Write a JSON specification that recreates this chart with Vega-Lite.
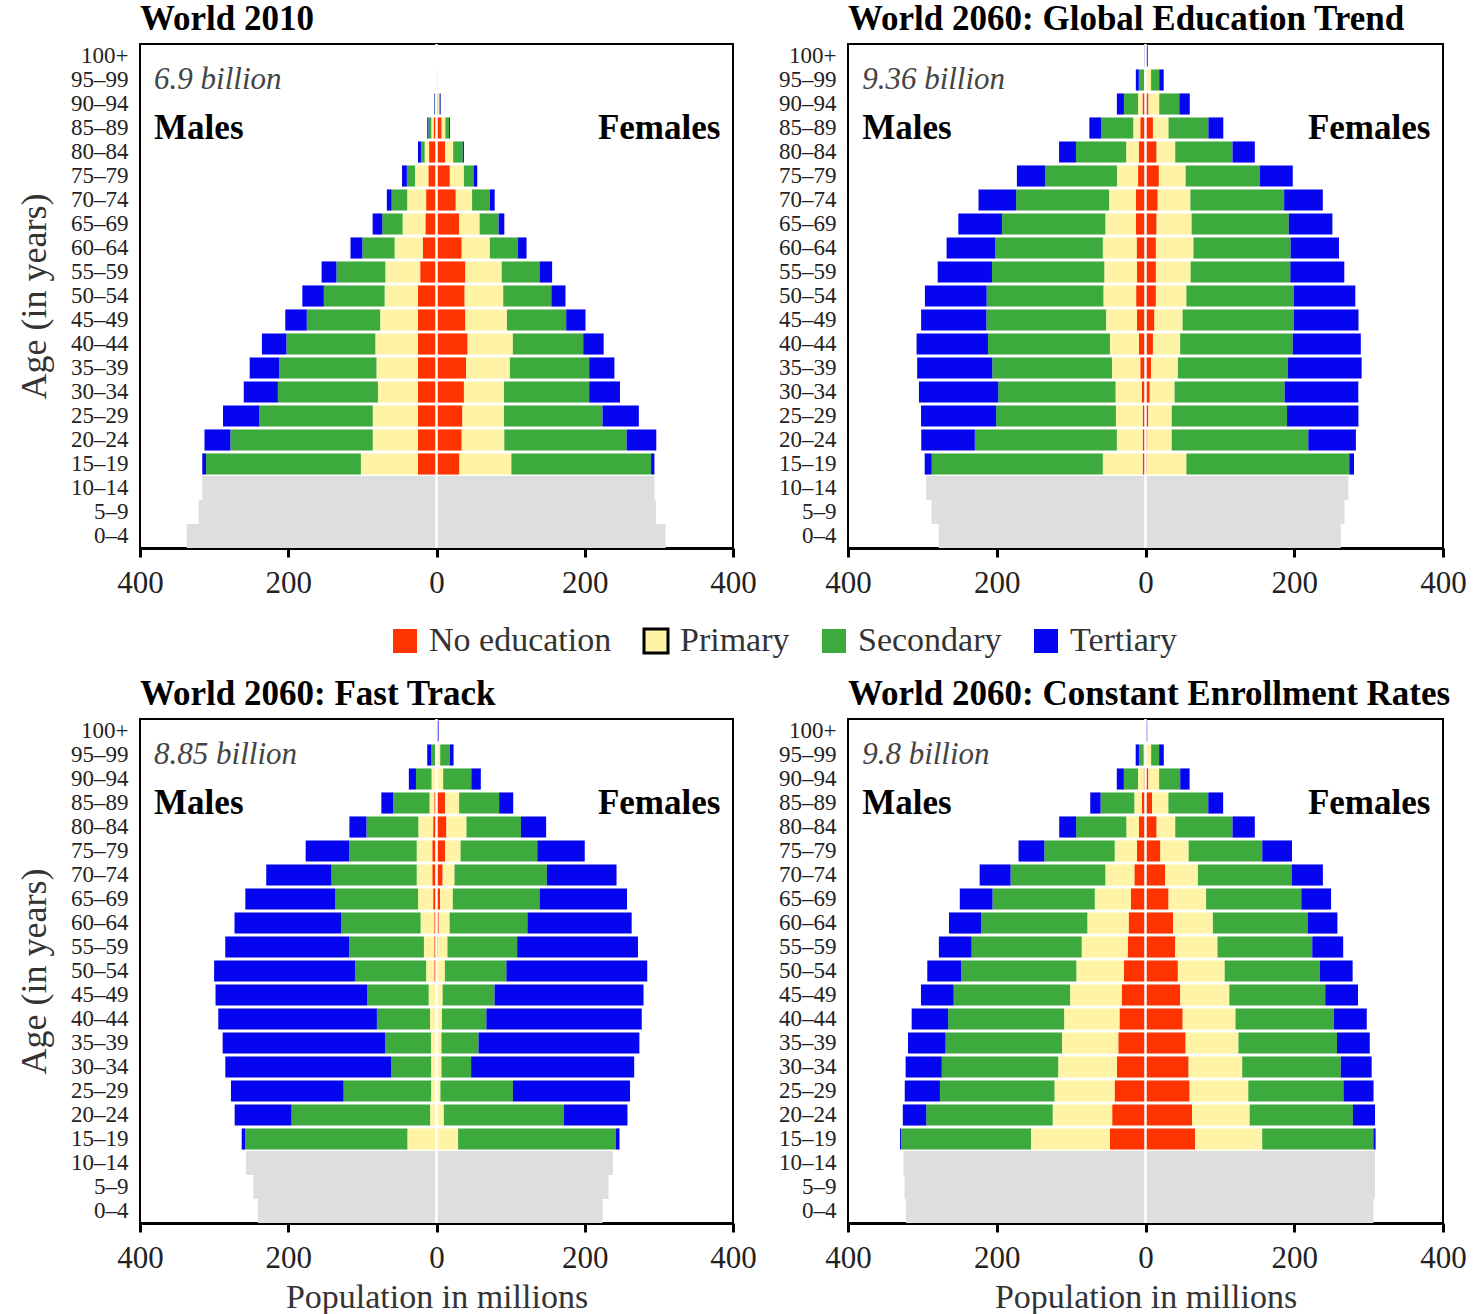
{
"$schema": "https://vega.github.io/schema/vega-lite/v6.json",
"background": "white",
"padding": {"left": 15, "top": 0, "right": 0, "bottom": 0},
"bounds": "flush",
"columns": 2,
"spacing": {"row": 171, "column": 115},
"resolve": {"scale": {"color": "shared"}, "legend": {"color": "shared"}},
"datasets": {
"notes": [
{"panel": "2010", "total": "6.9 billion"},
{"panel": "GET", "total": "9.36 billion"},
{"panel": "FT", "total": "8.85 billion"},
{"panel": "CER", "total": "9.8 billion"}
],
"kids": [
{"panel": "2010", "age": "10–14", "pop": -316}, {"panel": "2010", "age": "10–14", "pop": 294},
{"panel": "2010", "age": "5–9", "pop": -321}, {"panel": "2010", "age": "5–9", "pop": 296},
{"panel": "2010", "age": "0–4", "pop": -337}, {"panel": "2010", "age": "0–4", "pop": 309},
{"panel": "GET", "age": "10–14", "pop": -295}, {"panel": "GET", "age": "10–14", "pop": 272.6},
{"panel": "GET", "age": "5–9", "pop": -287.7}, {"panel": "GET", "age": "5–9", "pop": 267.5},
{"panel": "GET", "age": "0–4", "pop": -278}, {"panel": "GET", "age": "0–4", "pop": 262.5},
{"panel": "FT", "age": "10–14", "pop": -257}, {"panel": "FT", "age": "10–14", "pop": 238},
{"panel": "FT", "age": "5–9", "pop": -247}, {"panel": "FT", "age": "5–9", "pop": 232},
{"panel": "FT", "age": "0–4", "pop": -241}, {"panel": "FT", "age": "0–4", "pop": 224},
{"panel": "CER", "age": "10–14", "pop": -325.5}, {"panel": "CER", "age": "10–14", "pop": 308.5},
{"panel": "CER", "age": "5–9", "pop": -324}, {"panel": "CER", "age": "5–9", "pop": 308.5},
{"panel": "CER", "age": "0–4", "pop": -322}, {"panel": "CER", "age": "0–4", "pop": 306.6}
],
"edu": [
{"panel":"2010","age":"100+","No education":-0.1,"Primary":-0.1,"Secondary":-0.1,"Tertiary":-0.1},
{"panel":"2010","age":"100+","No education":0.2,"Primary":0.2,"Secondary":0.2,"Tertiary":0.1},
{"panel":"2010","age":"95–99","No education":-0.3,"Primary":-0.2,"Secondary":-0.2,"Tertiary":-0.1},
{"panel":"2010","age":"95–99","No education":0.6,"Primary":0.4,"Secondary":0.3,"Tertiary":0.2},
{"panel":"2010","age":"90–94","No education":-1,"Primary":-0.8,"Secondary":-0.8,"Tertiary":-0.6},
{"panel":"2010","age":"90–94","No education":2.2,"Primary":1.5,"Secondary":1.5,"Tertiary":0.8},
{"panel":"2010","age":"85–89","No education":-4,"Primary":-3,"Secondary":-4,"Tertiary":-1.5},
{"panel":"2010","age":"85–89","No education":7,"Primary":5,"Secondary":5,"Tertiary":1.2},
{"panel":"2010","age":"80–84","No education":-10,"Primary":-6,"Secondary":-5,"Tertiary":-4},
{"panel":"2010","age":"80–84","No education":11.5,"Primary":11,"Secondary":13,"Tertiary":1.5},
{"panel":"2010","age":"75–79","No education":-11,"Primary":-18,"Secondary":-11,"Tertiary":-6.5},
{"panel":"2010","age":"75–79","No education":18,"Primary":19,"Secondary":13,"Tertiary":5},
{"panel":"2010","age":"70–74","No education":-14,"Primary":-25.5,"Secondary":-21,"Tertiary":-6.5},
{"panel":"2010","age":"70–74","No education":26,"Primary":22,"Secondary":24,"Tertiary":6.5},
{"panel":"2010","age":"65–69","No education":-15,"Primary":-30.7,"Secondary":-27.5,"Tertiary":-13},
{"panel":"2010","age":"65–69","No education":30.7,"Primary":27.5,"Secondary":25.6,"Tertiary":7.7},
{"panel":"2010","age":"60–64","No education":-18.5,"Primary":-38,"Secondary":-43.5,"Tertiary":-16},
{"panel":"2010","age":"60–64","No education":34,"Primary":38,"Secondary":38,"Tertiary":11.5},
{"panel":"2010","age":"55–59","No education":-22,"Primary":-47,"Secondary":-66,"Tertiary":-20},
{"panel":"2010","age":"55–59","No education":39,"Primary":49,"Secondary":51,"Tertiary":17},
{"panel":"2010","age":"50–54","No education":-25,"Primary":-45,"Secondary":-82,"Tertiary":-29},
{"panel":"2010","age":"50–54","No education":38,"Primary":52,"Secondary":65,"Tertiary":19},
{"panel":"2010","age":"45–49","No education":-25,"Primary":-51,"Secondary":-99,"Tertiary":-29},
{"panel":"2010","age":"45–49","No education":39,"Primary":56,"Secondary":80,"Tertiary":26},
{"panel":"2010","age":"40–44","No education":-25,"Primary":-57.5,"Secondary":-120,"Tertiary":-33},
{"panel":"2010","age":"40–44","No education":42,"Primary":61,"Secondary":95,"Tertiary":27.5},
{"panel":"2010","age":"35–39","No education":-25,"Primary":-56,"Secondary":-131,"Tertiary":-40},
{"panel":"2010","age":"35–39","No education":40,"Primary":59,"Secondary":107,"Tertiary":34},
{"panel":"2010","age":"30–34","No education":-25,"Primary":-54,"Secondary":-135,"Tertiary":-46},
{"panel":"2010","age":"30–34","No education":37,"Primary":54,"Secondary":115,"Tertiary":41.5},
{"panel":"2010","age":"25–29","No education":-25,"Primary":-61,"Secondary":-153,"Tertiary":-49},
{"panel":"2010","age":"25–29","No education":35,"Primary":56,"Secondary":133,"Tertiary":49},
{"panel":"2010","age":"20–24","No education":-25,"Primary":-61,"Secondary":-192,"Tertiary":-35},
{"panel":"2010","age":"20–24","No education":34,"Primary":57.5,"Secondary":165,"Tertiary":40},
{"panel":"2010","age":"15–19","No education":-25,"Primary":-77,"Secondary":-209,"Tertiary":-5},
{"panel":"2010","age":"15–19","No education":31,"Primary":70,"Secondary":188.5,"Tertiary":4.5},

{"panel":"GET","age":"100+","No education":0,"Primary":-0.3,"Secondary":-0.5,"Tertiary":-1},
{"panel":"GET","age":"100+","No education":0,"Primary":0.5,"Secondary":1,"Tertiary":1.5},
{"panel":"GET","age":"95–99","No education":-0.5,"Primary":-1.5,"Secondary":-7,"Tertiary":-4},
{"panel":"GET","age":"95–99","No education":0.5,"Primary":7,"Secondary":11,"Tertiary":6},
{"panel":"GET","age":"90–94","No education":-4,"Primary":-6,"Secondary":-19,"Tertiary":-9.5},
{"panel":"GET","age":"90–94","No education":4,"Primary":14.5,"Secondary":27,"Tertiary":14},
{"panel":"GET","age":"85–89","No education":-7,"Primary":-9.5,"Secondary":-43,"Tertiary":-16},
{"panel":"GET","age":"85–89","No education":10,"Primary":21,"Secondary":53.6,"Tertiary":20},
{"panel":"GET","age":"80–84","No education":-9,"Primary":-17,"Secondary":-67.5,"Tertiary":-22.7},
{"panel":"GET","age":"80–84","No education":15,"Primary":25,"Secondary":77,"Tertiary":30},
{"panel":"GET","age":"75–79","No education":-10,"Primary":-28.4,"Secondary":-96.5,"Tertiary":-38},
{"panel":"GET","age":"75–79","No education":18,"Primary":36,"Secondary":100,"Tertiary":44},
{"panel":"GET","age":"70–74","No education":-13,"Primary":-36,"Secondary":-125,"Tertiary":-50.5},
{"panel":"GET","age":"70–74","No education":16.4,"Primary":44,"Secondary":126,"Tertiary":52},
{"panel":"GET","age":"65–69","No education":-13,"Primary":-41,"Secondary":-139,"Tertiary":-58.7},
{"panel":"GET","age":"65–69","No education":15,"Primary":47,"Secondary":130.6,"Tertiary":58.7},
{"panel":"GET","age":"60–64","No education":-12,"Primary":-45.4,"Secondary":-145,"Tertiary":-65},
{"panel":"GET","age":"60–64","No education":14,"Primary":50.5,"Secondary":130.6,"Tertiary":65},
{"panel":"GET","age":"55–59","No education":-11.4,"Primary":-44,"Secondary":-151,"Tertiary":-73},
{"panel":"GET","age":"55–59","No education":14,"Primary":46.7,"Secondary":134,"Tertiary":72.6},
{"panel":"GET","age":"50–54","No education":-12.6,"Primary":-44,"Secondary":-157,"Tertiary":-83},
{"panel":"GET","age":"50–54","No education":14,"Primary":41,"Secondary":144.5,"Tertiary":82.6},
{"panel":"GET","age":"45–49","No education":-11.4,"Primary":-41.6,"Secondary":-161,"Tertiary":-87.7},
{"panel":"GET","age":"45–49","No education":12,"Primary":37.9,"Secondary":149.5,"Tertiary":87},
{"panel":"GET","age":"40–44","No education":-8.8,"Primary":-39,"Secondary":-164,"Tertiary":-96},
{"panel":"GET","age":"40–44","No education":10,"Primary":36.6,"Secondary":151.4,"Tertiary":91.5},
{"panel":"GET","age":"35–39","No education":-7,"Primary":-38,"Secondary":-161,"Tertiary":-101},
{"panel":"GET","age":"35–39","No education":7.6,"Primary":36,"Secondary":148,"Tertiary":99},
{"panel":"GET","age":"30–34","No education":-5,"Primary":-35.3,"Secondary":-157.7,"Tertiary":-106.6},
{"panel":"GET","age":"30–34","No education":5.7,"Primary":33.4,"Secondary":148,"Tertiary":99},
{"panel":"GET","age":"25–29","No education":-3.8,"Primary":-36,"Secondary":-161,"Tertiary":-101},
{"panel":"GET","age":"25–29","No education":3.8,"Primary":31.5,"Secondary":155,"Tertiary":96},
{"panel":"GET","age":"20–24","No education":-3.8,"Primary":-34.7,"Secondary":-191,"Tertiary":-72},
{"panel":"GET","age":"20–24","No education":2.5,"Primary":32.8,"Secondary":183.6,"Tertiary":64},
{"panel":"GET","age":"15–19","No education":-3.8,"Primary":-53.6,"Secondary":-230,"Tertiary":-9.5},
{"panel":"GET","age":"15–19","No education":2,"Primary":53,"Secondary":219,"Tertiary":6.3},

{"panel":"FT","age":"100+","No education":0,"Primary":0,"Secondary":-0.2,"Tertiary":-0.5},
{"panel":"FT","age":"100+","No education":0,"Primary":0.3,"Secondary":0.5,"Tertiary":2},
{"panel":"FT","age":"95–99","No education":0,"Primary":-2,"Secondary":-5,"Tertiary":-5.5},
{"panel":"FT","age":"95–99","No education":0,"Primary":5,"Secondary":13,"Tertiary":5},
{"panel":"FT","age":"90–94","No education":-1,"Primary":-5.7,"Secondary":-21,"Tertiary":-9.6},
{"panel":"FT","age":"90–94","No education":1,"Primary":8,"Secondary":38,"Tertiary":12.8},
{"panel":"FT","age":"85–89","No education":-3,"Primary":-6.4,"Secondary":-49,"Tertiary":-16},
{"panel":"FT","age":"85–89","No education":11.5,"Primary":19,"Secondary":54,"Tertiary":19},
{"panel":"FT","age":"80–84","No education":-4.5,"Primary":-20,"Secondary":-70,"Tertiary":-23},
{"panel":"FT","age":"80–84","No education":13.4,"Primary":27,"Secondary":73.5,"Tertiary":34},
{"panel":"FT","age":"75–79","No education":-5.7,"Primary":-21,"Secondary":-91,"Tertiary":-58.8},
{"panel":"FT","age":"75–79","No education":11.5,"Primary":21,"Secondary":103.5,"Tertiary":64},
{"panel":"FT","age":"70–74","No education":-5.7,"Primary":-21,"Secondary":-115,"Tertiary":-88},
{"panel":"FT","age":"70–74","No education":8.3,"Primary":16,"Secondary":124.6,"Tertiary":94},
{"panel":"FT","age":"65–69","No education":-4.5,"Primary":-20.4,"Secondary":-112,"Tertiary":-121},
{"panel":"FT","age":"65–69","No education":5,"Primary":17,"Secondary":117,"Tertiary":118},
{"panel":"FT","age":"60–64","No education":-3,"Primary":-18.5,"Secondary":-107,"Tertiary":-144},
{"panel":"FT","age":"60–64","No education":3,"Primary":14.7,"Secondary":105,"Tertiary":140.6},
{"panel":"FT","age":"55–59","No education":-3,"Primary":-14,"Secondary":-101,"Tertiary":-167},
{"panel":"FT","age":"55–59","No education":2,"Primary":12.8,"Secondary":94,"Tertiary":163},
{"panel":"FT","age":"50–54","No education":-3,"Primary":-11,"Secondary":-96,"Tertiary":-190},
{"panel":"FT","age":"50–54","No education":1.3,"Primary":10,"Secondary":83,"Tertiary":190},
{"panel":"FT","age":"45–49","No education":-1,"Primary":-9.6,"Secondary":-83,"Tertiary":-204.5},
{"panel":"FT","age":"45–49","No education":0.6,"Primary":7.7,"Secondary":70,"Tertiary":201},
{"panel":"FT","age":"40–44","No education":-0.5,"Primary":-8.3,"Secondary":-71.6,"Tertiary":-214},
{"panel":"FT","age":"40–44","No education":0.3,"Primary":7,"Secondary":60,"Tertiary":209.6},
{"panel":"FT","age":"35–39","No education":-0.5,"Primary":-7,"Secondary":-62,"Tertiary":-219},
{"panel":"FT","age":"35–39","No education":0.3,"Primary":6.4,"Secondary":50,"Tertiary":217},
{"panel":"FT","age":"30–34","No education":-0.3,"Primary":-7,"Secondary":-54,"Tertiary":-223.6},
{"panel":"FT","age":"30–34","No education":0.3,"Primary":6.4,"Secondary":40,"Tertiary":220},
{"panel":"FT","age":"25–29","No education":-0.3,"Primary":-7,"Secondary":-118,"Tertiary":-152},
{"panel":"FT","age":"25–29","No education":0.3,"Primary":5,"Secondary":97.8,"Tertiary":158},
{"panel":"FT","age":"20–24","No education":-0.3,"Primary":-8.3,"Secondary":-187,"Tertiary":-76.7},
{"panel":"FT","age":"20–24","No education":0.3,"Primary":9.6,"Secondary":161.7,"Tertiary":86},
{"panel":"FT","age":"15–19","No education":-0.3,"Primary":-39,"Secondary":-219,"Tertiary":-4.5},
{"panel":"FT","age":"15–19","No education":0.3,"Primary":28.8,"Secondary":212.8,"Tertiary":5},

{"panel":"CER","age":"100+","No education":0,"Primary":0,"Secondary":-0.2,"Tertiary":-0.5},
{"panel":"CER","age":"100+","No education":0,"Primary":0.3,"Secondary":0.5,"Tertiary":1.5},
{"panel":"CER","age":"95–99","No education":0,"Primary":-2.5,"Secondary":-6.3,"Tertiary":-4.4},
{"panel":"CER","age":"95–99","No education":0,"Primary":7.6,"Secondary":10.7,"Tertiary":6.3},
{"panel":"CER","age":"90–94","No education":-2.5,"Primary":-7.6,"Secondary":-19,"Tertiary":-9.5},
{"panel":"CER","age":"90–94","No education":3.8,"Primary":14.5,"Secondary":28.4,"Tertiary":12.6},
{"panel":"CER","age":"85–89","No education":-5,"Primary":-10,"Secondary":-45.4,"Tertiary":-13.9},
{"panel":"CER","age":"85–89","No education":8.8,"Primary":22,"Secondary":53.6,"Tertiary":20},
{"panel":"CER","age":"80–84","No education":-8.8,"Primary":-17,"Secondary":-67.5,"Tertiary":-22.7},
{"panel":"CER","age":"80–84","No education":15,"Primary":25,"Secondary":77,"Tertiary":30},
{"panel":"CER","age":"75–79","No education":-11.4,"Primary":-30,"Secondary":-94.6,"Tertiary":-34.7},
{"panel":"CER","age":"75–79","No education":20,"Primary":38,"Secondary":99,"Tertiary":40},
{"panel":"CER","age":"70–74","No education":-15,"Primary":-39,"Secondary":-127.4,"Tertiary":-41.6},
{"panel":"CER","age":"70–74","No education":26.5,"Primary":44,"Secondary":126,"Tertiary":42},
{"panel":"CER","age":"65–69","No education":-19.6,"Primary":-48.6,"Secondary":-137.5,"Tertiary":-44},
{"panel":"CER","age":"65–69","No education":31,"Primary":50.5,"Secondary":128,"Tertiary":40},
{"panel":"CER","age":"60–64","No education":-22.7,"Primary":-55.5,"Secondary":-143,"Tertiary":-43},
{"panel":"CER","age":"60–64","No education":37,"Primary":53.6,"Secondary":127.4,"Tertiary":40},
{"panel":"CER","age":"55–59","No education":-24,"Primary":-61.8,"Secondary":-148,"Tertiary":-44},
{"panel":"CER","age":"55–59","No education":40,"Primary":56.8,"Secondary":127.4,"Tertiary":41.6},
{"panel":"CER","age":"50–54","No education":-29,"Primary":-64,"Secondary":-155,"Tertiary":-45.4},
{"panel":"CER","age":"50–54","No education":43.5,"Primary":63,"Secondary":128,"Tertiary":44},
{"panel":"CER","age":"45–49","No education":-32,"Primary":-69.4,"Secondary":-156.5,"Tertiary":-44},
{"panel":"CER","age":"45–49","No education":46.7,"Primary":66,"Secondary":129,"Tertiary":44},
{"panel":"CER","age":"40–44","No education":-35,"Primary":-74.4,"Secondary":-156,"Tertiary":-49},
{"panel":"CER","age":"40–44","No education":50,"Primary":71,"Secondary":132.5,"Tertiary":44},
{"panel":"CER","age":"35–39","No education":-36.6,"Primary":-75.7,"Secondary":-156.5,"Tertiary":-50.5},
{"panel":"CER","age":"35–39","No education":54,"Primary":71,"Secondary":132.5,"Tertiary":44},
{"panel":"CER","age":"30–34","No education":-38.5,"Primary":-78.9,"Secondary":-156.5,"Tertiary":-48.6},
{"panel":"CER","age":"30–34","No education":58,"Primary":72,"Secondary":132.5,"Tertiary":41.6},
{"panel":"CER","age":"25–29","No education":-41.6,"Primary":-80.8,"Secondary":-154,"Tertiary":-47.3},
{"panel":"CER","age":"25–29","No education":59.3,"Primary":78.9,"Secondary":128,"Tertiary":40.4},
{"panel":"CER","age":"20–24","No education":-44.8,"Primary":-80,"Secondary":-170,"Tertiary":-31.5},
{"panel":"CER","age":"20–24","No education":62.5,"Primary":77.6,"Secondary":138.8,"Tertiary":29.7},
{"panel":"CER","age":"15–19","No education":-48,"Primary":-106,"Secondary":-174.8,"Tertiary":-1.3},
{"panel":"CER","age":"15–19","No education":66.9,"Primary":90,"Secondary":149.5,"Tertiary":3}
]
},
"concat": [
{"width": 593, "height": 504, "title": {"text": "World 2010"},
"layer": [
{"data": {"name": "kids"}, "transform": [{"filter": "datum.panel == '2010'"}],
"mark": {"type": "bar", "color": "#dedede"},
"encoding": {
"x": {"field": "pop", "type": "quantitative", "scale": {"domain": [-400, 400]}, "axis": {"values": [-400, -200, 0, 200, 400], "labelExpr": "abs(datum.value)", "title": null}},
"y": {"field": "age", "type": "ordinal", "scale": {"domain": ["100+","95–99","90–94","85–89","80–84","75–79","70–74","65–69","60–64","55–59","50–54","45–49","40–44","35–39","30–34","25–29","20–24","15–19","10–14","5–9","0–4"], "paddingInner": 0, "paddingOuter": 0}, "axis": {"title": "Age (in years)"}}}},
{"data": {"name": "edu"}, "transform": [{"filter": "datum.panel == '2010'"}, {"fold": ["No education", "Primary", "Secondary", "Tertiary"], "as": ["edu", "pop"]}],
"mark": {"type": "bar", "height": {"band": 0.88}},
"encoding": {
"x": {"field": "pop", "type": "quantitative", "stack": "zero"},
"y": {"field": "age", "type": "ordinal"},
"color": {"field": "edu", "type": "nominal", "scale": {"domain": ["No education", "Primary", "Secondary", "Tertiary"], "range": ["#ff3300", "#fff3a6", "#3caa3c", "#0505f0"]},
"legend": {"orient": "none", "legendX": 248, "legendY": 580, "direction": "horizontal", "title": null, "labelFontSize": 34, "labelColor": "#333", "symbolType": "square", "symbolSize": 576, "columnPadding": 26, "labelOffset": 7, "labelLimit": 400,
"encode": {"symbols": {"update": {"stroke": {"signal": "datum.label === 'Primary' ? '#000' : 'transparent'"}, "strokeWidth": {"value": 3}}}}}},
"order": {"field": "edu", "type": "ordinal", "sort": "ascending"}}},
{"data": {"name": "notes"}, "transform": [{"filter": "datum.panel == '2010'"}], "mark": {"type": "rule", "color": "white", "strokeWidth": 2.5}, "encoding": {"x": {"datum": 0}}},
{"data": {"name": "notes"}, "transform": [{"filter": "datum.panel == '2010'"}], "mark": {"type": "text", "align": "left", "baseline": "middle", "fontStyle": "italic", "fontSize": 31, "color": "#444"}, "encoding": {"x": {"datum": -381}, "y": {"datum": "95–99"}, "text": {"field": "total"}}},
{"data": {"name": "notes"}, "transform": [{"filter": "datum.panel == '2010'"}], "mark": {"type": "text", "text": "Males", "align": "left", "baseline": "middle", "fontWeight": "bold", "fontSize": 35, "color": "#000"}, "encoding": {"x": {"datum": -381}, "y": {"datum": "85–89"}}},
{"data": {"name": "notes"}, "transform": [{"filter": "datum.panel == '2010'"}], "mark": {"type": "text", "text": "Females", "align": "right", "baseline": "middle", "fontWeight": "bold", "fontSize": 35, "color": "#000"}, "encoding": {"x": {"datum": 383}, "y": {"datum": "85–89"}}}
]},
{"width": 595, "height": 504, "title": {"text": "World 2060: Global Education Trend"},
"layer": [
{"data": {"name": "kids"}, "transform": [{"filter": "datum.panel == 'GET'"}],
"mark": {"type": "bar", "color": "#dedede"},
"encoding": {
"x": {"field": "pop", "type": "quantitative", "scale": {"domain": [-400, 400]}, "axis": {"values": [-400, -200, 0, 200, 400], "labelExpr": "abs(datum.value)", "title": null}},
"y": {"field": "age", "type": "ordinal", "scale": {"domain": ["100+","95–99","90–94","85–89","80–84","75–79","70–74","65–69","60–64","55–59","50–54","45–49","40–44","35–39","30–34","25–29","20–24","15–19","10–14","5–9","0–4"], "paddingInner": 0, "paddingOuter": 0}, "axis": {"title": null}}}},
{"data": {"name": "edu"}, "transform": [{"filter": "datum.panel == 'GET'"}, {"fold": ["No education", "Primary", "Secondary", "Tertiary"], "as": ["edu", "pop"]}],
"mark": {"type": "bar", "height": {"band": 0.88}},
"encoding": {
"x": {"field": "pop", "type": "quantitative", "stack": "zero"},
"y": {"field": "age", "type": "ordinal"},
"color": {"field": "edu", "type": "nominal", "scale": {"domain": ["No education", "Primary", "Secondary", "Tertiary"], "range": ["#ff3300", "#fff3a6", "#3caa3c", "#0505f0"]}},
"order": {"field": "edu", "type": "ordinal", "sort": "ascending"}}},
{"data": {"name": "notes"}, "transform": [{"filter": "datum.panel == 'GET'"}], "mark": {"type": "rule", "color": "white", "strokeWidth": 2.5}, "encoding": {"x": {"datum": 0}}},
{"data": {"name": "notes"}, "transform": [{"filter": "datum.panel == 'GET'"}], "mark": {"type": "text", "align": "left", "baseline": "middle", "fontStyle": "italic", "fontSize": 31, "color": "#444"}, "encoding": {"x": {"datum": -381}, "y": {"datum": "95–99"}, "text": {"field": "total"}}},
{"data": {"name": "notes"}, "transform": [{"filter": "datum.panel == 'GET'"}], "mark": {"type": "text", "text": "Males", "align": "left", "baseline": "middle", "fontWeight": "bold", "fontSize": 35, "color": "#000"}, "encoding": {"x": {"datum": -381}, "y": {"datum": "85–89"}}},
{"data": {"name": "notes"}, "transform": [{"filter": "datum.panel == 'GET'"}], "mark": {"type": "text", "text": "Females", "align": "right", "baseline": "middle", "fontWeight": "bold", "fontSize": 35, "color": "#000"}, "encoding": {"x": {"datum": 383}, "y": {"datum": "85–89"}}}
]},
{"width": 593, "height": 504, "title": {"text": "World 2060: Fast Track"},
"layer": [
{"data": {"name": "kids"}, "transform": [{"filter": "datum.panel == 'FT'"}],
"mark": {"type": "bar", "color": "#dedede"},
"encoding": {
"x": {"field": "pop", "type": "quantitative", "scale": {"domain": [-400, 400]}, "axis": {"values": [-400, -200, 0, 200, 400], "labelExpr": "abs(datum.value)", "title": "Population in millions"}},
"y": {"field": "age", "type": "ordinal", "scale": {"domain": ["100+","95–99","90–94","85–89","80–84","75–79","70–74","65–69","60–64","55–59","50–54","45–49","40–44","35–39","30–34","25–29","20–24","15–19","10–14","5–9","0–4"], "paddingInner": 0, "paddingOuter": 0}, "axis": {"title": "Age (in years)"}}}},
{"data": {"name": "edu"}, "transform": [{"filter": "datum.panel == 'FT'"}, {"fold": ["No education", "Primary", "Secondary", "Tertiary"], "as": ["edu", "pop"]}],
"mark": {"type": "bar", "height": {"band": 0.88}},
"encoding": {
"x": {"field": "pop", "type": "quantitative", "stack": "zero"},
"y": {"field": "age", "type": "ordinal"},
"color": {"field": "edu", "type": "nominal", "scale": {"domain": ["No education", "Primary", "Secondary", "Tertiary"], "range": ["#ff3300", "#fff3a6", "#3caa3c", "#0505f0"]}},
"order": {"field": "edu", "type": "ordinal", "sort": "ascending"}}},
{"data": {"name": "notes"}, "transform": [{"filter": "datum.panel == 'FT'"}], "mark": {"type": "rule", "color": "white", "strokeWidth": 2.5}, "encoding": {"x": {"datum": 0}}},
{"data": {"name": "notes"}, "transform": [{"filter": "datum.panel == 'FT'"}], "mark": {"type": "text", "align": "left", "baseline": "middle", "fontStyle": "italic", "fontSize": 31, "color": "#444"}, "encoding": {"x": {"datum": -381}, "y": {"datum": "95–99"}, "text": {"field": "total"}}},
{"data": {"name": "notes"}, "transform": [{"filter": "datum.panel == 'FT'"}], "mark": {"type": "text", "text": "Males", "align": "left", "baseline": "middle", "fontWeight": "bold", "fontSize": 35, "color": "#000"}, "encoding": {"x": {"datum": -381}, "y": {"datum": "85–89"}}},
{"data": {"name": "notes"}, "transform": [{"filter": "datum.panel == 'FT'"}], "mark": {"type": "text", "text": "Females", "align": "right", "baseline": "middle", "fontWeight": "bold", "fontSize": 35, "color": "#000"}, "encoding": {"x": {"datum": 383}, "y": {"datum": "85–89"}}}
]},
{"width": 595, "height": 504, "title": {"text": "World 2060: Constant Enrollment Rates"},
"layer": [
{"data": {"name": "kids"}, "transform": [{"filter": "datum.panel == 'CER'"}],
"mark": {"type": "bar", "color": "#dedede"},
"encoding": {
"x": {"field": "pop", "type": "quantitative", "scale": {"domain": [-400, 400]}, "axis": {"values": [-400, -200, 0, 200, 400], "labelExpr": "abs(datum.value)", "title": "Population in millions"}},
"y": {"field": "age", "type": "ordinal", "scale": {"domain": ["100+","95–99","90–94","85–89","80–84","75–79","70–74","65–69","60–64","55–59","50–54","45–49","40–44","35–39","30–34","25–29","20–24","15–19","10–14","5–9","0–4"], "paddingInner": 0, "paddingOuter": 0}, "axis": {"title": null}}}},
{"data": {"name": "edu"}, "transform": [{"filter": "datum.panel == 'CER'"}, {"fold": ["No education", "Primary", "Secondary", "Tertiary"], "as": ["edu", "pop"]}],
"mark": {"type": "bar", "height": {"band": 0.88}},
"encoding": {
"x": {"field": "pop", "type": "quantitative", "stack": "zero"},
"y": {"field": "age", "type": "ordinal"},
"color": {"field": "edu", "type": "nominal", "scale": {"domain": ["No education", "Primary", "Secondary", "Tertiary"], "range": ["#ff3300", "#fff3a6", "#3caa3c", "#0505f0"]}},
"order": {"field": "edu", "type": "ordinal", "sort": "ascending"}}},
{"data": {"name": "notes"}, "transform": [{"filter": "datum.panel == 'CER'"}], "mark": {"type": "rule", "color": "white", "strokeWidth": 2.5}, "encoding": {"x": {"datum": 0}}},
{"data": {"name": "notes"}, "transform": [{"filter": "datum.panel == 'CER'"}], "mark": {"type": "text", "align": "left", "baseline": "middle", "fontStyle": "italic", "fontSize": 31, "color": "#444"}, "encoding": {"x": {"datum": -381}, "y": {"datum": "95–99"}, "text": {"field": "total"}}},
{"data": {"name": "notes"}, "transform": [{"filter": "datum.panel == 'CER'"}], "mark": {"type": "text", "text": "Males", "align": "left", "baseline": "middle", "fontWeight": "bold", "fontSize": 35, "color": "#000"}, "encoding": {"x": {"datum": -381}, "y": {"datum": "85–89"}}},
{"data": {"name": "notes"}, "transform": [{"filter": "datum.panel == 'CER'"}], "mark": {"type": "text", "text": "Females", "align": "right", "baseline": "middle", "fontWeight": "bold", "fontSize": 35, "color": "#000"}, "encoding": {"x": {"datum": 383}, "y": {"datum": "85–89"}}}
]}
],
"config": {
"font": "Liberation Serif",
"view": {"stroke": "#000", "strokeWidth": 2},
"axis": {"grid": false, "labelFont": "Liberation Serif", "titleFont": "Liberation Serif"},
"axisX": {"domainColor": "#000", "domainWidth": 3, "tickColor": "#000", "tickWidth": 3, "tickSize": 9, "labelFontSize": 31, "labelColor": "#222", "labelPadding": 11, "labelFlush": false, "labelOverlap": false, "zindex": 1, "titleFontSize": 34, "titleFontWeight": "normal", "titleColor": "#333", "titlePadding": 7},
"axisY": {"domain": false, "ticks": false, "labelFontSize": 23, "labelColor": "#222", "labelPadding": 12, "titleFontSize": 36, "titleFontWeight": "normal", "titleColor": "#333", "titlePadding": 17},
"legend": {"labelFont": "Liberation Serif"},
"title": {"font": "Liberation Serif", "fontSize": 35, "fontWeight": "bold", "anchor": "start", "frame": "group", "color": "#000", "offset": 6}
}
}
